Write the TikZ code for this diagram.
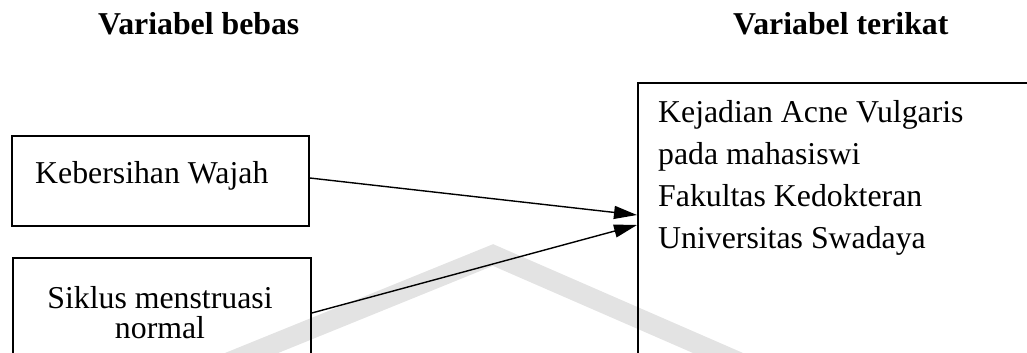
\documentclass[tikz,border=0pt]{standalone}
\usepackage{fontspec}
\setmainfont{Liberation Serif}
\usetikzlibrary{arrows.meta,calc}
\tikzset{
  boxnode/.style={draw=black, line width=1.8pt, anchor=north west, inner sep=0pt, fill=none},
  bodytext/.style={inner sep=0pt, font=\fontsize{31.8}{41.7}\selectfont},
  titletext/.style={inner sep=0pt, anchor=base west, font=\fontsize{31.8}{38}\selectfont\bfseries},
  conn/.style={line width=1.4pt, -{Triangle[length=23pt,width=13pt]}},
  watermark/.style={draw=gray!22, line width=20pt, line join=miter}
}
\begin{document}
\begin{tikzpicture}[x=1pt,y=-1pt]
\useasboundingbox (0,0) rectangle (1027,353);
\clip (0,0) rectangle (1027,353);
% faint watermark
\draw[watermark] (190,378) -- (493,255) -- (780,380);
% titles
\node[titletext] (tbebas) at (98,35) {Variabel bebas};
\node[titletext] (tterikat) at (733,35) {Variabel terikat};
% boxes
\node[boxnode, minimum width=297pt, minimum height=90pt] (b1) at (11,135) {};
\node[boxnode, minimum width=298pt, minimum height=130pt] (b2) at (12,257) {};
\node[boxnode, minimum width=420pt, minimum height=320pt] (b3) at (637,82) {};
% texts
\node[bodytext, anchor=base west] (x1) at (35,183) {Kebersihan Wajah};
\node[bodytext, anchor=base, align=center, font=\fontsize{31.8}{30}\selectfont] (x2) at (160,338) {Siklus menstruasi\\normal};
\node[bodytext, anchor=base west, align=left] (x3) at (658,248) {Kejadian Acne Vulgaris\\pada mahasiswi\\Fakultas Kedokteran\\Universitas Swadaya};
% connectors
\draw[conn] ($(b1.north east)+(0,43)$) -- ($(b3.north west)+(0,133)$);
\draw[conn] ($(b2.north east)+(0,56)$) -- ($(b3.north west)+(0,143)$);
\end{tikzpicture}
\end{document}
